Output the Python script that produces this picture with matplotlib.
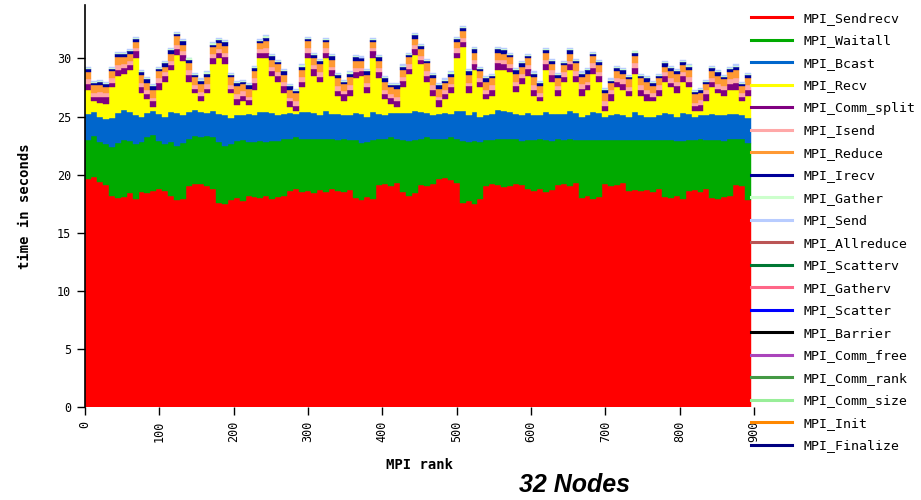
import numpy as np
import matplotlib
matplotlib.use('Agg')
import matplotlib.pyplot as plt
from matplotlib.lines import Line2D

# MPI time per rank in groups of 8 ranks (896 ranks = 32 nodes)
GROUP = 8
N_RANKS = 896

sendrecv = [
    19.6, 19.8, 19.4, 19.1, 18.2, 18.0, 18.1, 18.4, 17.9, 18.5, 18.4, 18.6, 18.8, 18.6, 18.2, 17.8, 17.9, 19.0, 19.2,
    19.2, 19.0, 18.8, 17.6, 17.5, 17.8, 18.0, 17.7, 18.2, 18.1, 18.0, 18.2, 17.9, 18.1, 18.2, 18.6, 18.8, 18.5,
    18.6, 18.4, 18.7, 18.5, 18.8, 18.6, 18.5, 18.7, 18.0, 17.8, 18.1, 17.9, 19.1, 19.2, 19.0, 19.3, 18.5, 18.2, 18.4,
    19.1, 19.0, 19.2, 19.6, 19.7, 19.5, 19.3, 17.6, 17.7, 17.5, 17.9, 19.0, 19.2, 19.1, 18.9, 19.0, 19.2, 19.1, 18.8,
    18.6, 18.8, 18.5, 18.7, 19.1, 19.2, 19.0, 19.3, 18.0, 18.2, 17.9, 18.1, 19.2, 19.0, 19.1, 19.3, 18.6, 18.7,
    18.6, 18.7, 18.5, 18.8, 18.1, 18.0, 18.2, 17.9, 18.6, 18.7, 18.5, 18.8, 18.0, 17.9, 18.1, 18.2, 19.1, 19.0, 17.8,
]
waitall = [
    3.4, 3.5, 3.4, 3.5, 4.2, 4.7, 4.9, 4.5, 4.7, 4.3, 4.8, 4.8, 4.1, 4.0, 4.6, 4.7, 4.8, 4.1, 4.1,
    4.0, 4.3, 4.4, 5.2, 5.0, 4.8, 4.9, 5.3, 4.6, 4.7, 4.9, 4.6, 5.0, 4.8, 4.9, 4.5, 4.4, 4.6,
    4.5, 4.7, 4.4, 4.6, 4.3, 4.4, 4.6, 4.3, 5.0, 4.9, 4.7, 5.1, 4.0, 3.9, 4.2, 3.8, 4.5, 4.7, 4.6,
    4.0, 4.2, 3.9, 3.5, 3.4, 3.7, 3.8, 5.3, 5.1, 5.4, 4.9, 4.0, 3.8, 4.0, 4.2, 4.1, 3.9, 3.8, 4.2,
    4.4, 4.3, 4.5, 4.2, 4.0, 3.8, 4.1, 3.7, 5.0, 4.8, 5.1, 4.9, 3.8, 4.0, 3.9, 3.7, 4.4, 4.3,
    4.4, 4.3, 4.5, 4.2, 4.9, 5.0, 4.7, 5.0, 4.4, 4.3, 4.6, 4.2, 5.0, 5.1, 4.8, 4.9, 4.0, 4.1, 4.9,
]
bcast = [
    2.2, 2.1, 2.2, 2.2, 2.5, 2.6, 2.6, 2.5, 2.5, 2.2, 2.1, 2.1, 2.3, 2.4, 2.6, 2.8, 2.4, 2.3, 2.3,
    2.2, 2.0, 2.3, 2.4, 2.6, 2.3, 2.2, 2.1, 2.4, 2.3, 2.5, 2.6, 2.4, 2.2, 2.1, 2.2, 2.0, 2.3,
    2.3, 2.2, 2.0, 2.4, 2.1, 2.2, 2.0, 2.1, 2.3, 2.5, 2.2, 2.4, 2.1, 2.0, 2.1, 2.2, 2.3, 2.4, 2.5,
    2.3, 2.1, 2.0, 2.1, 2.2, 2.0, 2.4, 2.6, 2.3, 2.5, 2.2, 2.1, 2.2, 2.5, 2.4, 2.3, 2.1, 2.2, 2.3,
    2.1, 2.0, 2.4, 2.3, 2.1, 2.2, 2.4, 2.3, 2.0, 2.1, 2.4, 2.3, 2.0, 2.1, 2.2, 2.1, 2.0, 2.4,
    2.1, 2.0, 2.0, 2.1, 2.3, 2.2, 2.1, 2.4, 2.2, 2.0, 2.0, 2.1, 2.2, 2.1, 2.2, 2.1, 2.1, 2.0, 2.2,
]
recv = [
    2.1, 0.9, 1.2, 1.3, 2.6, 3.2, 3.1, 3.6, 4.9, 2.0, 1.2, 0.3, 2.1, 3.0, 3.6, 5.0, 4.7, 2.6, 1.4,
    0.9, 1.7, 4.0, 4.8, 4.4, 2.1, 0.9, 1.2, 0.8, 2.2, 4.6, 4.6, 3.2, 2.9, 1.8, 0.5, 0.3, 2.1,
    4.6, 3.2, 2.9, 4.5, 3.3, 1.6, 1.2, 1.7, 3.0, 3.3, 2.0, 4.6, 3.1, 1.4, 0.8, 0.5, 2.2, 3.4, 4.8,
    4.1, 2.7, 1.7, 0.6, 1.2, 1.8, 4.5, 5.5, 1.9, 3.6, 2.5, 1.4, 1.6, 3.4, 3.5, 3.4, 1.9, 2.7, 3.2,
    1.7, 1.2, 3.6, 2.8, 1.6, 2.8, 3.5, 2.7, 1.8, 2.2, 3.3, 2.7, 0.5, 1.2, 2.3, 2.2, 1.8, 3.3,
    1.7, 1.3, 1.3, 1.7, 2.7, 2.3, 2.0, 2.7, 2.3, 0.5, 0.4, 1.2, 2.3, 1.9, 1.7, 2.1, 2.1, 1.2, 1.9,
]
comm_split = [
    0.5, 0.4, 0.5, 0.6, 0.4, 0.5, 0.5, 0.4, 0.6, 0.5, 0.4, 0.5, 0.6, 0.5, 0.4, 0.5, 0.5, 0.6, 0.4,
    0.5, 0.4, 0.5, 0.5, 0.6, 0.4, 0.5, 0.5, 0.4, 0.6, 0.5, 0.5, 0.4, 0.5, 0.6, 0.5, 0.4, 0.5,
    0.5, 0.6, 0.4, 0.5, 0.5, 0.4, 0.6, 0.5, 0.5, 0.4, 0.5, 0.6, 0.5, 0.4, 0.5, 0.5, 0.6, 0.4, 0.5,
    0.4, 0.5, 0.5, 0.6, 0.4, 0.5, 0.5, 0.4, 0.6, 0.5, 0.5, 0.4, 0.5, 0.6, 0.5, 0.4, 0.5, 0.5, 0.6,
    0.5, 0.4, 0.5, 0.6, 0.5, 0.4, 0.5, 0.5, 0.6, 0.4, 0.5, 0.5, 0.4, 0.6, 0.5, 0.5, 0.4, 0.5,
    0.5, 0.6, 0.4, 0.5, 0.5, 0.4, 0.6, 0.5, 0.5, 0.4, 0.5, 0.6, 0.5, 0.4, 0.5, 0.5, 0.6, 0.4, 0.5,
]
isend = [
    0.4, 0.3, 0.4, 0.3, 0.4, 0.4, 0.3, 0.4, 0.3, 0.4, 0.4, 0.3, 0.4, 0.3, 0.4, 0.4, 0.3, 0.4, 0.3,
    0.3, 0.4, 0.4, 0.3, 0.4, 0.3, 0.4, 0.4, 0.3, 0.4, 0.3, 0.4, 0.4, 0.3, 0.4, 0.3, 0.4, 0.4,
    0.4, 0.3, 0.4, 0.4, 0.3, 0.4, 0.3, 0.4, 0.4, 0.3, 0.4, 0.3, 0.4, 0.4, 0.3, 0.4, 0.3, 0.4, 0.4,
    0.3, 0.4, 0.4, 0.3, 0.4, 0.3, 0.4, 0.4, 0.3, 0.4, 0.3, 0.4, 0.4, 0.3, 0.4, 0.3, 0.4, 0.4, 0.3,
    0.4, 0.3, 0.4, 0.4, 0.3, 0.4, 0.3, 0.4, 0.4, 0.3, 0.4, 0.3, 0.4, 0.4, 0.3, 0.4, 0.3, 0.4,
    0.4, 0.4, 0.3, 0.4, 0.3, 0.4, 0.4, 0.3, 0.4, 0.3, 0.4, 0.4, 0.3, 0.4, 0.3, 0.4, 0.4, 0.3, 0.4,
]
reduce_ = [
    0.6, 0.7, 0.6, 0.5, 0.6, 0.7, 0.6, 0.6, 0.5, 0.7, 0.6, 0.7, 0.6, 0.5, 0.6, 0.7, 0.6, 0.6, 0.7,
    0.7, 0.6, 0.6, 0.5, 0.6, 0.7, 0.7, 0.6, 0.7, 0.6, 0.5, 0.6, 0.6, 0.7, 0.6, 0.7, 0.7, 0.6,
    0.6, 0.6, 0.7, 0.5, 0.6, 0.7, 0.6, 0.7, 0.6, 0.6, 0.7, 0.5, 0.6, 0.7, 0.6, 0.7, 0.6, 0.6, 0.5,
    0.6, 0.7, 0.6, 0.7, 0.6, 0.6, 0.5, 0.6, 0.7, 0.6, 0.6, 0.7, 0.6, 0.6, 0.5, 0.6, 0.7, 0.6, 0.6,
    0.7, 0.6, 0.6, 0.5, 0.7, 0.6, 0.6, 0.7, 0.6, 0.7, 0.6, 0.6, 0.7, 0.6, 0.6, 0.5, 0.7, 0.6,
    0.6, 0.7, 0.6, 0.6, 0.5, 0.6, 0.7, 0.6, 0.6, 0.7, 0.6, 0.5, 0.6, 0.7, 0.6, 0.6, 0.7, 0.6, 0.6,
]
irecv = [
    0.3, 0.2, 0.3, 0.3, 0.2, 0.3, 0.3, 0.2, 0.3, 0.2, 0.3, 0.3, 0.2, 0.3, 0.3, 0.2, 0.3, 0.3, 0.2,
    0.3, 0.3, 0.2, 0.3, 0.3, 0.2, 0.3, 0.2, 0.3, 0.3, 0.2, 0.3, 0.3, 0.2, 0.3, 0.3, 0.2, 0.3,
    0.2, 0.3, 0.3, 0.2, 0.3, 0.3, 0.2, 0.3, 0.3, 0.2, 0.3, 0.2, 0.3, 0.3, 0.2, 0.3, 0.3, 0.2, 0.3,
    0.3, 0.2, 0.3, 0.3, 0.2, 0.3, 0.3, 0.2, 0.3, 0.3, 0.2, 0.3, 0.2, 0.3, 0.3, 0.2, 0.3, 0.3, 0.2,
    0.3, 0.3, 0.2, 0.3, 0.3, 0.2, 0.3, 0.2, 0.3, 0.3, 0.2, 0.3, 0.3, 0.2, 0.3, 0.3, 0.2, 0.3,
    0.2, 0.3, 0.3, 0.2, 0.3, 0.3, 0.2, 0.3, 0.3, 0.2, 0.3, 0.2, 0.3, 0.3, 0.2, 0.3, 0.3, 0.2, 0.3,
]
gather = [
    0.1, 0.08, 0.1, 0.1, 0.08, 0.1, 0.08, 0.1, 0.1, 0.08, 0.1, 0.08, 0.1, 0.1, 0.08, 0.1, 0.08, 0.1, 0.1,
    0.08, 0.1, 0.1, 0.08, 0.1, 0.08, 0.1, 0.1, 0.08, 0.1, 0.08, 0.1, 0.1, 0.08, 0.1, 0.08, 0.1, 0.1,
    0.1, 0.08, 0.1, 0.1, 0.08, 0.1, 0.08, 0.1, 0.1, 0.08, 0.1, 0.08, 0.1, 0.1, 0.08, 0.1, 0.08, 0.1, 0.1,
    0.1, 0.08, 0.1, 0.1, 0.08, 0.1, 0.08, 0.1, 0.1, 0.08, 0.1, 0.08, 0.1, 0.1, 0.08, 0.1, 0.08, 0.1, 0.1,
    0.08, 0.1, 0.1, 0.08, 0.1, 0.08, 0.1, 0.1, 0.08, 0.1, 0.08, 0.1, 0.1, 0.08, 0.1, 0.08, 0.1, 0.1,
    0.1, 0.08, 0.1, 0.1, 0.08, 0.1, 0.08, 0.1, 0.1, 0.08, 0.1, 0.08, 0.1, 0.1, 0.08, 0.1, 0.08, 0.1, 0.1,
]
send = [
    0.08, 0.1, 0.08, 0.08, 0.1, 0.08, 0.1, 0.08, 0.08, 0.1, 0.08, 0.1, 0.08, 0.08, 0.1, 0.08, 0.1, 0.08, 0.08,
    0.1, 0.08, 0.08, 0.1, 0.08, 0.1, 0.08, 0.08, 0.1, 0.08, 0.1, 0.08, 0.08, 0.1, 0.08, 0.1, 0.08, 0.08,
    0.08, 0.1, 0.08, 0.08, 0.1, 0.08, 0.1, 0.08, 0.08, 0.1, 0.08, 0.1, 0.08, 0.08, 0.1, 0.08, 0.1, 0.08, 0.08,
    0.08, 0.1, 0.08, 0.08, 0.1, 0.08, 0.1, 0.08, 0.08, 0.1, 0.08, 0.1, 0.08, 0.08, 0.1, 0.08, 0.1, 0.08, 0.08,
    0.1, 0.08, 0.08, 0.1, 0.08, 0.1, 0.08, 0.08, 0.1, 0.08, 0.1, 0.08, 0.08, 0.1, 0.08, 0.1, 0.08, 0.08,
    0.08, 0.1, 0.08, 0.08, 0.1, 0.08, 0.1, 0.08, 0.08, 0.1, 0.08, 0.1, 0.08, 0.08, 0.1, 0.08, 0.1, 0.08, 0.08,
]

# all routines in the legend; the ones after MPI_Send are too small to show up
routine_names = ['MPI_Sendrecv', 'MPI_Waitall', 'MPI_Bcast', 'MPI_Recv', 'MPI_Comm_split',
                 'MPI_Isend', 'MPI_Reduce', 'MPI_Irecv', 'MPI_Gather', 'MPI_Send',
                 'MPI_Allreduce', 'MPI_Scatterv', 'MPI_Gatherv', 'MPI_Scatter', 'MPI_Barrier',
                 'MPI_Comm_free', 'MPI_Comm_rank', 'MPI_Comm_size', 'MPI_Init', 'MPI_Finalize']
routine_colors = ['#FF0000', '#00AA00', '#0066CC', '#FFFF00', '#800080',
                  '#FFA8A8', '#FF9933', '#000099', '#CCFFCC', '#B8CCFF',
                  '#BB5555', '#007733', '#FF6688', '#0000FF', '#000000',
                  '#AA44BB', '#449944', '#99EE99', '#FF8800', '#000080']
stacked = [sendrecv, waitall, bcast, recv, comm_split, isend, reduce_, irecv, gather, send]

mono = 'DejaVu Sans Mono'

fig = plt.figure(figsize=(9.21, 5.0), dpi=100)
ax = fig.add_axes([85 / 921, 93 / 500, 669 / 921, 402 / 500])

x = np.arange(0, N_RANKS, GROUP)
bottom = np.zeros(len(x))
for vals, color in zip(stacked, routine_colors):
    vals = np.asarray(vals)
    assert len(vals) == len(x)
    ax.bar(x, vals, width=GROUP, bottom=bottom, align='edge',
           color=color, edgecolor=color, linewidth=0.3)
    bottom += vals

ax.set_xlim(0, 900)
ax.set_ylim(0, 34.6)
ax.set_xticks(range(0, 901, 100))
ax.set_yticks(range(0, 31, 5))
for side in ['top', 'right', 'bottom']:
    ax.spines[side].set_visible(False)
ax.spines['left'].set_linewidth(1.2)
ax.tick_params(direction='out', length=6, width=1, labelsize=8.5, pad=4)
for lab in ax.get_xticklabels():
    lab.set_rotation(90)
for lab in ax.get_xticklabels() + ax.get_yticklabels():
    lab.set_fontfamily(mono)

ax.set_xlabel('MPI rank', fontfamily=mono, fontweight='bold', fontsize=10, va='center')
ax.xaxis.set_label_coords(0.5, -0.144)
ax.set_ylabel('time in seconds', fontfamily=mono, fontweight='bold', fontsize=10, va='center')
ax.yaxis.set_label_coords(-0.09, 0.5)

handles = [Line2D([0], [0], color=c, lw=2.2) for c in routine_colors]
fig.legend(handles, routine_names, loc='upper left', bbox_to_anchor=(751 / 921, 1 - 12 / 500),
           frameon=False, prop={'family': mono, 'size': 9.5}, handlelength=3.1,
           handletextpad=0.9, labelspacing=0.72, borderpad=0, borderaxespad=0)

fig.text(574 / 921, 1 - 485 / 500, '32 Nodes', ha='center', va='center', fontsize=18,
         fontweight='bold', fontstyle='italic', family='Liberation Sans')

fig.savefig('out.png', dpi=100)
